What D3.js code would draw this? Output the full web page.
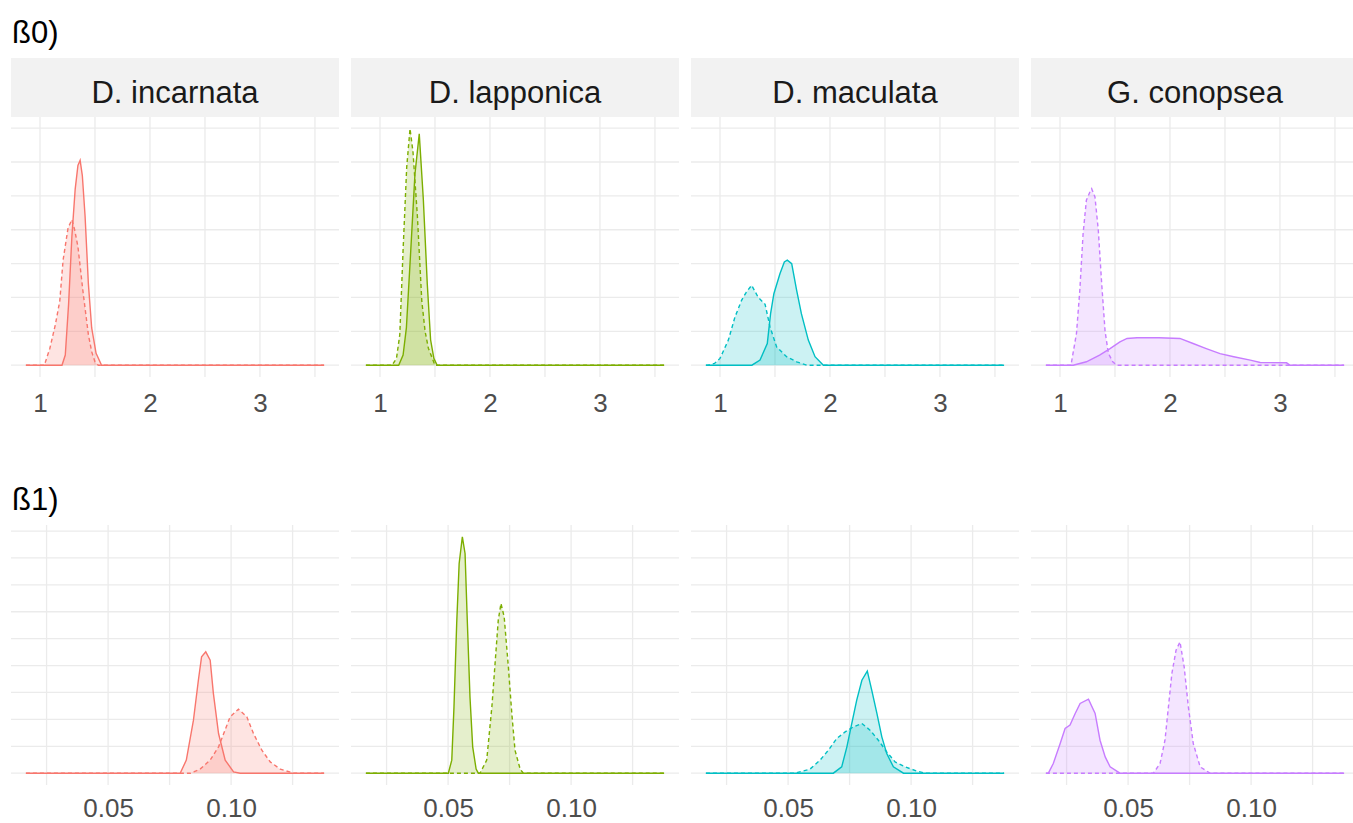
<!DOCTYPE html>
<html>
<head>
<meta charset="utf-8">
<script src="https://cdn.jsdelivr.net/npm/d3@7"></script>
<style>
  body { margin: 0; background: #fff; }
  text { font-family: "Liberation Sans", Arial, sans-serif; }
  .grid line { stroke: #ebebeb; stroke-width: 1.3; }
  .tick-label { fill: #4d4d4d; font-size: 26px; }
  .strip-text { fill: #1a1a1a; font-size: 31px; }
  .row-title { fill: #000; font-size: 31px; }
</style>
</head>
<body>
<div id="chart"></div>
<script>
// species (facets) and the two groups per facet
let species = ['D. incarnata', 'D. lapponica', 'D. maculata', 'G. conopsea'];

// x range of the data in each row (densities run over the whole range)
let b0Range = [0.872, 3.583];
let b1Range = [0.0166, 0.1378];
let b0Ticks = [1, 2, 3];
let b0Minor = [1.5, 2.5, 3.5];
let b1Ticks = [0.05, 0.10];
let b1Minor = [0.025, 0.075, 0.125];
let b0Grid = [0, 1, 2, 3, 4, 5, 6, 7];
let b1Grid = [0, 20, 40, 60, 80, 100, 120, 140, 160, 180];

// ß0 densities, [x, density]
let b0IncarnataSolid = [[1.20,0],[1.23,0.3],[1.26,1.8],[1.29,3.8],[1.32,5.2],[1.345,5.9],[1.365,6.05],[1.385,5.6],[1.41,4.4],[1.44,2.4],[1.47,1.1],[1.51,0.35],[1.56,0]];
let b0IncarnataDashed = [[1.04,0],[1.09,0.5],[1.14,1.2],[1.18,1.9],[1.21,3.1],[1.255,4.05],[1.29,4.3],[1.315,4.0],[1.345,3.5],[1.39,2.2],[1.44,0.9],[1.47,0.4],[1.50,0.1],[1.53,0]];
let b0LapponicaSolid = [[1.17,0],[1.21,0.3],[1.24,1.1],[1.28,3.4],[1.318,5.65],[1.357,6.83],[1.394,4.9],[1.43,2.4],[1.46,0.75],[1.49,0.2],[1.52,0]];
let b0LapponicaDashed = [[1.11,0],[1.15,0.2],[1.18,0.9],[1.21,3.4],[1.243,5.85],[1.273,6.98],[1.30,6.3],[1.34,4.4],[1.38,1.9],[1.41,1.0],[1.44,0.5],[1.50,0]];
let b0MaculataSolid = [[1.29,0],[1.364,0.15],[1.43,0.64],[1.46,1.52],[1.49,2.11],[1.545,2.7],[1.585,3.05],[1.612,3.1],[1.652,3.0],[1.697,2.21],[1.74,1.52],[1.803,0.74],[1.864,0.25],[1.94,0]];
let b0MaculataDashed = [[0.89,0],[0.95,0.05],[1.0,0.2],[1.076,0.74],[1.136,1.42],[1.197,1.92],[1.24,2.16],[1.288,2.36],[1.348,2.0],[1.41,1.8],[1.455,1.13],[1.515,0.54],[1.606,0.25],[1.697,0.1],[1.79,0]];
let b0ConopseaSolid = [[1.12,0],[1.24,0.1],[1.36,0.3],[1.455,0.49],[1.545,0.69],[1.61,0.79],[1.70,0.81],[1.90,0.81],[2.09,0.79],[2.21,0.64],[2.33,0.49],[2.455,0.34],[2.58,0.25],[2.73,0.15],[2.82,0.08],[3.06,0.07],[3.09,0]];
let b0ConopseaDashed = [[1.10,0],[1.15,0.94],[1.18,2.2],[1.21,3.88],[1.24,4.87],[1.27,5.1],[1.288,5.21],[1.318,4.97],[1.348,4.0],[1.379,2.41],[1.41,1.0],[1.44,0.35],[1.48,0.1],[1.515,0]];

// ß1 densities, [x, density]
let b1IncarnataSolid = [[0.0793,0],[0.0818,9.7],[0.0847,39.4],[0.0867,69.1],[0.088,86.5],[0.0897,90.2],[0.0915,84],[0.0928,59.3],[0.0949,29.5],[0.0976,9.7],[0.101,1],[0.1037,0]];
let b1IncarnataDashed = [[0.0835,0],[0.0874,3],[0.0915,9.7],[0.0949,19.6],[0.097,29.5],[0.0996,41.9],[0.103,47.6],[0.1064,41.9],[0.1091,29.5],[0.1125,17.1],[0.1159,8.4],[0.12,3],[0.1254,0]];
let b1LapponicaSolid = [[0.0501,0],[0.0515,9.7],[0.0524,49.3],[0.0535,111.3],[0.0545,155.9],[0.0558,175.7],[0.0569,163.3],[0.0578,113.8],[0.0589,56.7],[0.06,19.6],[0.0614,3],[0.0623,0]];
let b1LapponicaDashed = [[0.063,0],[0.0657,9.7],[0.0678,49.3],[0.0691,81.6],[0.0704,113.8],[0.0715,126.2],[0.0728,116.2],[0.0745,79],[0.0759,44.4],[0.0772,17.1],[0.0793,3],[0.0806,0]];
let b1MaculataSolid = [[0.0684,0],[0.0718,4.7],[0.0739,19.6],[0.0759,37],[0.0779,54.3],[0.08,69.1],[0.0822,75.8],[0.084,61.7],[0.0861,44.4],[0.0881,27],[0.0901,14.6],[0.0928,4.7],[0.0969,0]];
let b1MaculataDashed = [[0.0528,0],[0.0589,3],[0.063,9.7],[0.0664,17.1],[0.0698,25.8],[0.0732,30.7],[0.0765,34.4],[0.08,37],[0.0833,32],[0.0867,24.5],[0.0901,15.8],[0.0935,8.4],[0.0976,4.7],[0.1024,1.5],[0.1057,0]];
let b1ConopseaSolid = [[0.0176,0],[0.0196,7.2],[0.0224,22],[0.0244,33.2],[0.0264,35.7],[0.0285,44.4],[0.0305,51.8],[0.0339,55],[0.0366,44.4],[0.0386,24.5],[0.0407,12.1],[0.0427,4.7],[0.0467,0]];
let b1ConopseaDashed = [[0.0603,0],[0.063,7.2],[0.065,24.5],[0.0664,49.3],[0.0678,74.1],[0.0695,91.4],[0.0711,97.6],[0.0728,79],[0.0745,49.3],[0.0765,22],[0.0793,4.7],[0.0833,0]];

let colours = d3.scaleOrdinal().domain(species).range(['#F8766D', '#7CAE00', '#00BFC4', '#C77CFF']);

let rows = [
    {title: 'ß0)', range: b0Range, ticks: b0Ticks, minor: b0Minor, grid: b0Grid, fmt: d3.format('d'),
     top: 58, strip: true, titleY: 43, labelY: 412,
     curves: [[b0IncarnataSolid, b0IncarnataDashed], [b0LapponicaSolid, b0LapponicaDashed],
              [b0MaculataSolid, b0MaculataDashed], [b0ConopseaSolid, b0ConopseaDashed]]},
    {title: 'ß1)', range: b1Range, ticks: b1Ticks, minor: b1Minor, grid: b1Grid, fmt: d3.format('.2f'),
     top: 466, strip: false, titleY: 510, labelY: 817,
     curves: [[b1IncarnataSolid, b1IncarnataDashed], [b1LapponicaSolid, b1LapponicaDashed],
              [b1MaculataSolid, b1MaculataDashed], [b1ConopseaSolid, b1ConopseaDashed]]}
];

let width = 1353, height = 823;
let panelW = 328, panelH = 260, gap = 12, left = 11, stripH = 59;

let svg = d3.select('#chart').append('svg')
    .attr('width', width)
    .attr('height', height);

svg.append('rect').attr('width', width).attr('height', height).attr('fill', '#fff');

rows.forEach(function(row) {
    // ggplot style 5% expansion
    let xr = row.range, xs = (xr[1] - xr[0]) * 0.05;
    let ymax = d3.max(row.curves.flat(), function(c) { return d3.max(c, function(d) { return d[1]; }); });
    let ys = ymax * 0.05;

    let x = d3.scaleLinear().domain([xr[0] - xs, xr[1] + xs]).range([0, panelW]);
    let panelTop = row.top + stripH;
    let y = d3.scaleLinear().domain([-ys, ymax + ys]).range([panelH, 0]);

    svg.append('text')
        .attr('class', 'row-title')
        .attr('x', 12)
        .attr('y', row.titleY)
        .text(row.title);

    species.forEach(function(sp, i) {
        let g = svg.append('g')
            .attr('transform', 'translate(' + (left + i * (panelW + gap)) + ',' + panelTop + ')');

        if (row.strip) {
            g.append('rect')
                .attr('x', 0).attr('y', -stripH)
                .attr('width', panelW).attr('height', stripH)
                .attr('fill', '#f2f2f2');
            g.append('text')
                .attr('class', 'strip-text')
                .attr('x', panelW / 2)
                .attr('y', -stripH / 2 + 15)
                .attr('text-anchor', 'middle')
                .text(sp);
        }

        // grid
        let grid = g.append('g').attr('class', 'grid');
        grid.selectAll('.hy').data(row.grid).enter().append('line')
            .attr('x1', 0).attr('x2', panelW)
            .attr('y1', function(d) { return y(d); })
            .attr('y2', function(d) { return y(d); });
        grid.selectAll('.vx').data(row.ticks.concat(row.minor)).enter().append('line')
            .attr('y1', 0).attr('y2', panelH)
            .attr('x1', function(d) { return x(d); })
            .attr('x2', function(d) { return x(d); });

        // x axis labels only
        let axis = d3.axisBottom(x).tickValues(row.ticks).tickFormat(row.fmt).tickSize(0).tickPadding(0);
        let ax = g.append('g').attr('transform', 'translate(0,' + panelH + ')').call(axis);
        ax.select('.domain').remove();
        ax.attr('font-size', null).attr('font-family', null);
        ax.selectAll('text')
            .attr('class', 'tick-label')
            .attr('dy', null)
            .attr('y', row.labelY - panelTop - panelH);

        let area = d3.area()
            .x(function(d) { return x(d[0]); })
            .y0(y(0))
            .y1(function(d) { return y(d[1]); });
        let line = d3.line()
            .x(function(d) { return x(d[0]); })
            .y(function(d) { return y(d[1]); });

        row.curves[i].forEach(function(c, k) {
            let pts = [[xr[0], 0]].concat(c, [[xr[1], 0]]);
            g.append('path')
                .datum(pts)
                .attr('d', area)
                .attr('fill', colours(sp))
                .attr('fill-opacity', 0.2);
            g.append('path')
                .datum(pts)
                .attr('d', line)
                .attr('fill', 'none')
                .attr('stroke', colours(sp))
                .attr('stroke-width', 1.4)
                .attr('stroke-dasharray', k === 1 ? '4,3' : null);
        });
    });
});
</script>
</body>
</html>
